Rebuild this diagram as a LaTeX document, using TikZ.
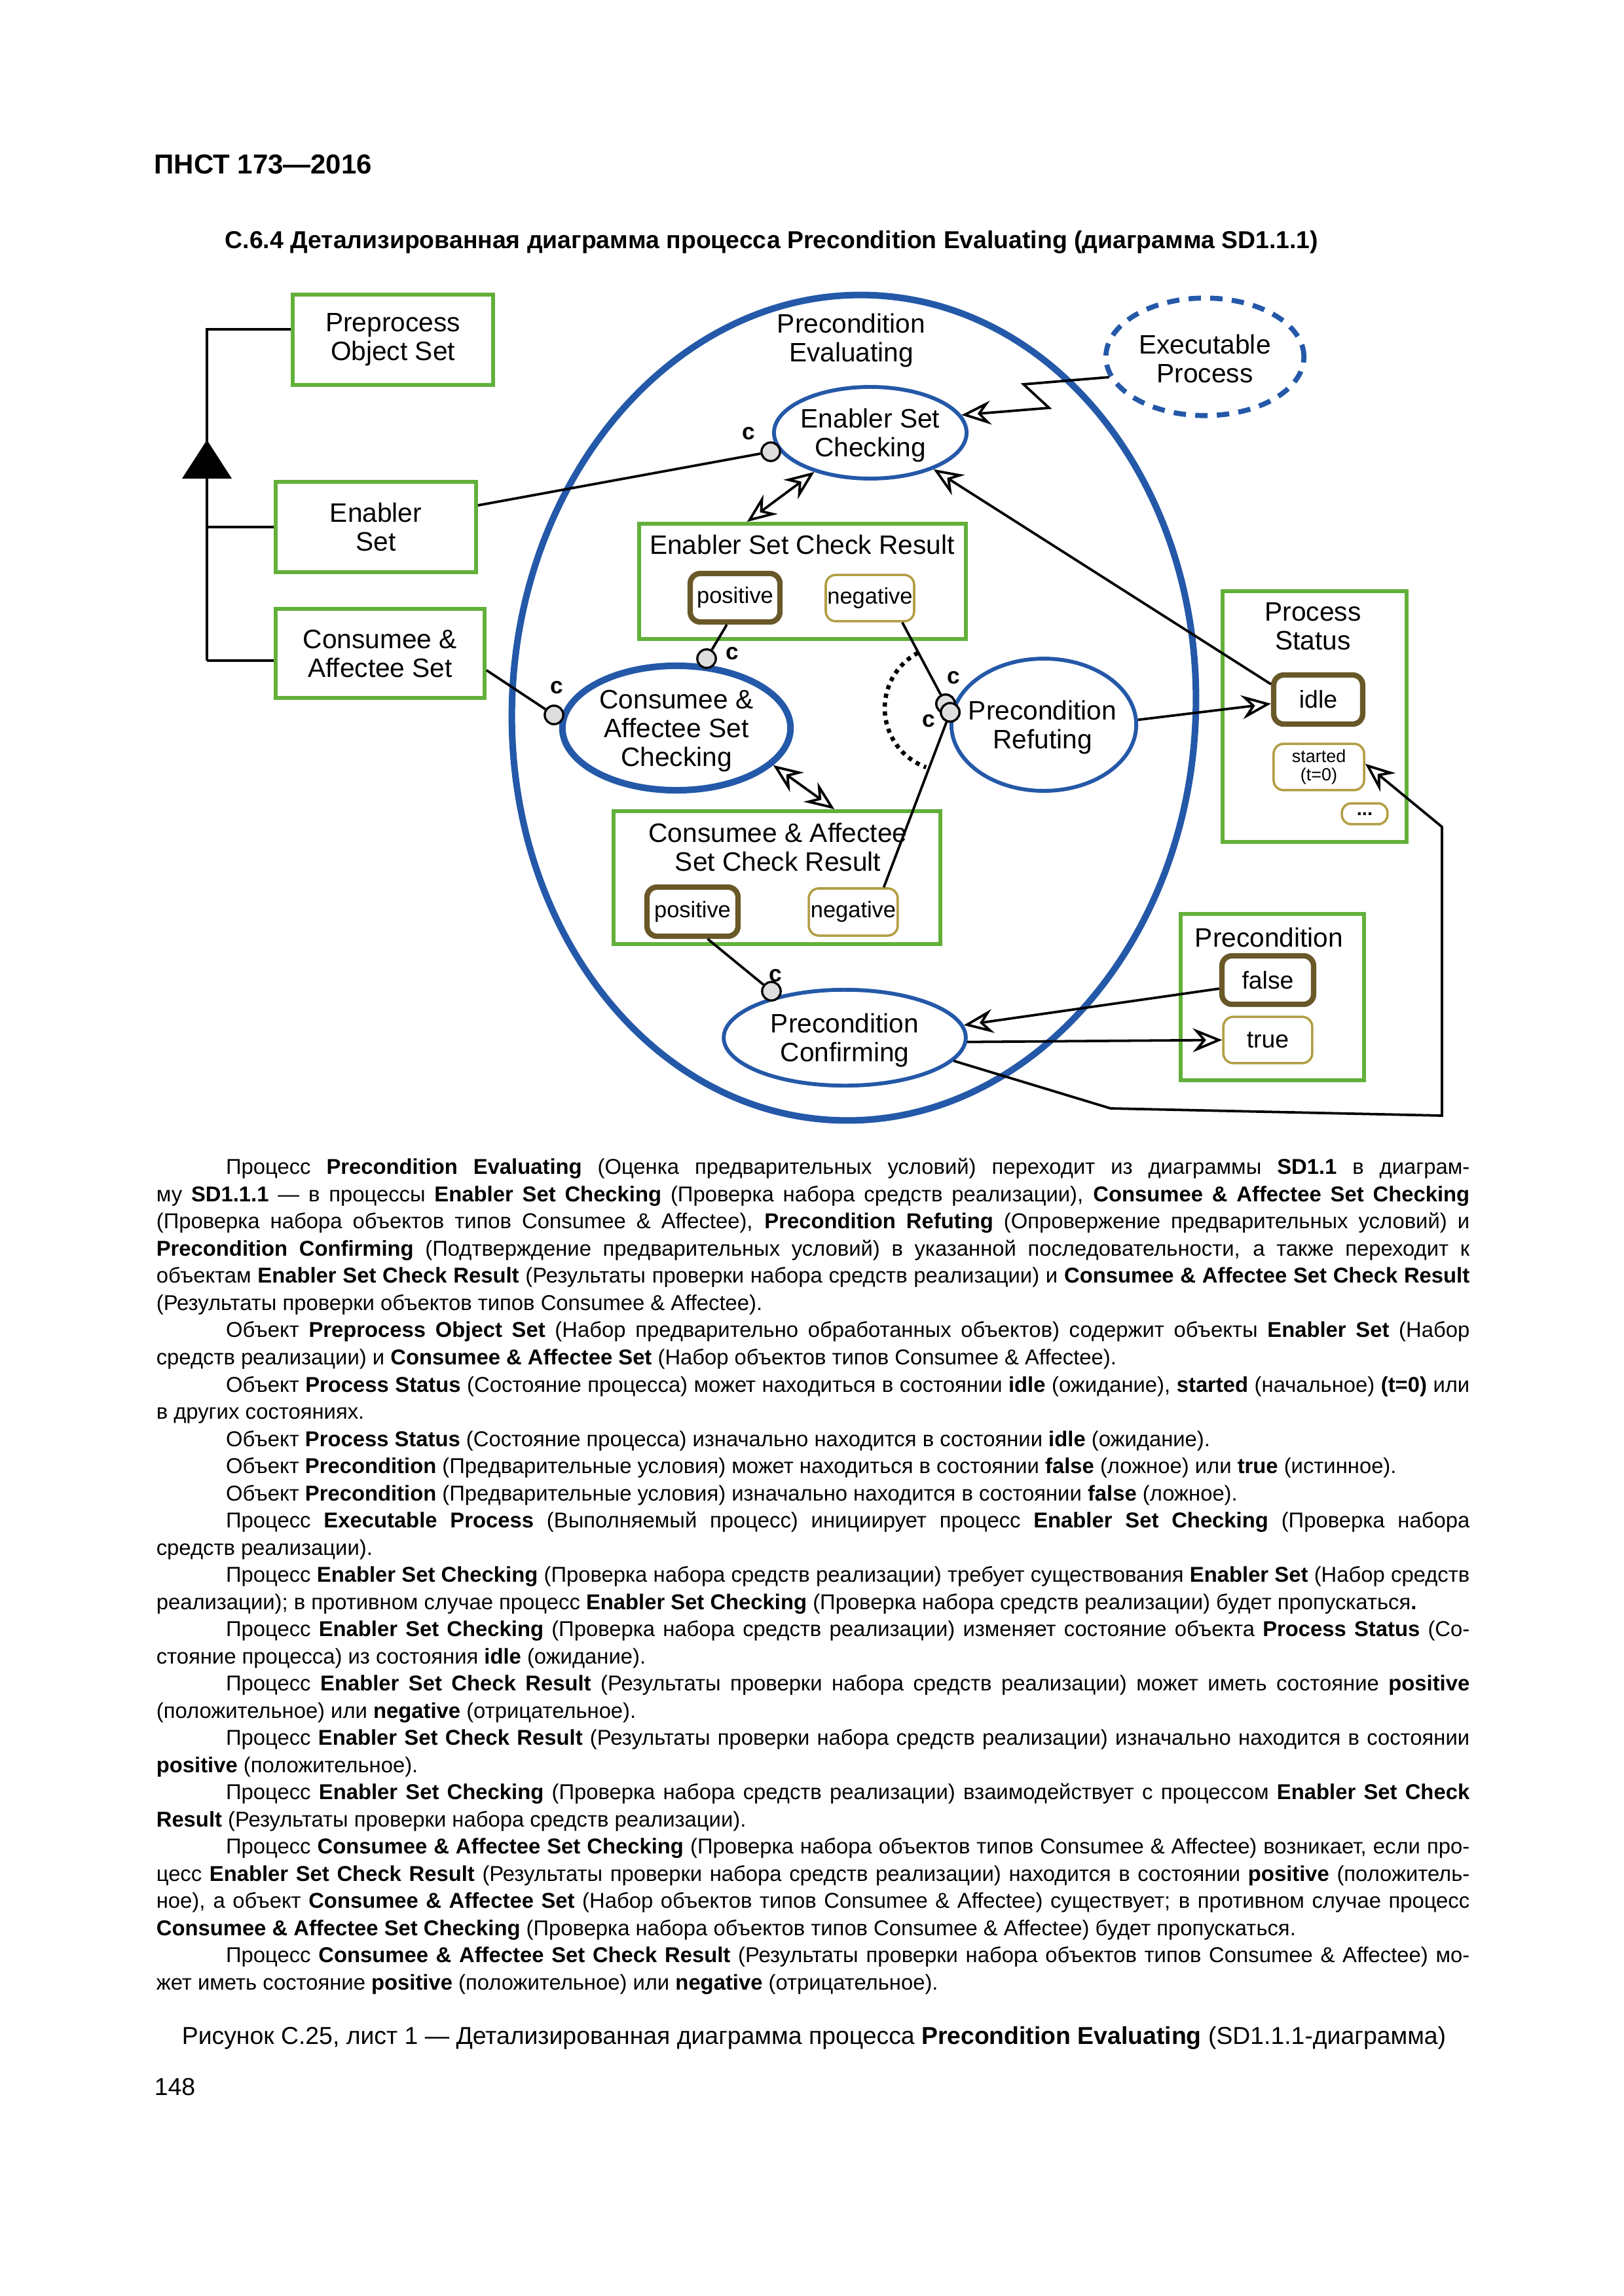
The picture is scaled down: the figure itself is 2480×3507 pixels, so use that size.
\documentclass[tikz,border=0pt]{standalone}
\usepackage{fontspec}
\setmainfont{Liberation Sans}
\usetikzlibrary{arrows.meta,shapes.geometric}
\definecolor{opmblue}{RGB}{36,88,168}
\definecolor{opmgreen}{RGB}{98,176,58}
\definecolor{stdark}{RGB}{105,88,40}
\definecolor{stlight}{RGB}{178,158,68}
\definecolor{cgray}{RGB}{222,222,222}
\newcommand\dfont{\fontsize{9.8}{10.6}\selectfont}
\newcommand\sfontA{\fontsize{8.3}{9}\selectfont}
\newcommand\txtj[1]{\hbox to\hsize{\strut #1}}
\newcommand\txtl[1]{\hbox{\strut #1}}
\newcommand\bx[1]{\textbf{#1}}
\newcommand\ind{\hspace*{9mm}}
\begin{document}
\begin{tikzpicture}[x=0.0846667mm,y=-0.0846667mm,
 obj/.style={draw=opmgreen,line width=0.5mm,fill=white,inner sep=0pt},
 proc/.style={draw=opmblue,line width=0.5mm,ellipse,inner sep=0pt},
 sti/.style={draw=stdark,line width=0.7mm,rounded corners=1.3mm,inner sep=0pt,font=\sfontA,fill=white},
 stn/.style={draw=stlight,line width=0.3mm,rounded corners=1.3mm,inner sep=0pt,font=\sfontA,fill=white},
 ttl/.style={font=\dfont,inner sep=0pt,align=center},
 lnk/.style={line width=0.32mm,draw=black},
 oarr/.style={-{Stealth[open,length=3.8mm,width=3.1mm,inset=1.3mm]}},
 darr/.style={{Stealth[open,length=3.8mm,width=3.1mm,inset=1.3mm]}-{Stealth[open,length=3.8mm,width=3.1mm,inset=1.3mm]}},
 cc/.style={circle,draw=black,line width=0.28mm,fill=cgray,minimum size=2.4mm,inner sep=0pt},
 clab/.style={font=\bfseries\fontsize{8.5}{8.5}\selectfont,inner sep=0pt},
]
\fill[white] (0,0) rectangle (2480,3507);
\path[use as bounding box] (0,0) rectangle (2480,3507);

% headers
\node[anchor=west,inner sep=0pt,font=\bfseries\fontsize{10.1}{12}\selectfont] (hdr) at (235,251) {ПНСТ 173—2016};
\node[anchor=west,inner sep=0pt,font=\bfseries\fontsize{9}{11}\selectfont] (head) at (343,370) {С.6.4 Детализированная диаграмма процесса Precondition Evaluating (диаграмма SD1.1.1)};

% big in-zoomed process
\node[draw=opmblue,line width=0.85mm,ellipse,minimum width=88.4mm,minimum height=106.8mm,inner sep=0pt,rotate=-3] (pe) at (1304,1081) {};
\node[ttl] (peT) at (1300,520) {Precondition\\Evaluating};

% left objects
\node[obj,minimum width=25.9mm,minimum height=11.7mm,align=center,font=\dfont] (pos) at (600,519) {Preprocess\\Object Set};
\node[obj,minimum width=25.9mm,minimum height=11.7mm,align=center,font=\dfont] (ens) at (574,805) {Enabler\\Set};
\node[obj,minimum width=27mm,minimum height=11.5mm,align=center,font=\dfont] (cas) at (580.5,998) {Consumee \&\\Affectee Set};
\coordinate (agbot) at (316,1009);
\coordinate (tri) at (316,672);
\draw[lnk] (pos.174) -| (agbot);
\draw[lnk] (ens.west) -- (ens.west -| agbot);
\draw[lnk] (cas.184) -- (cas.184 -| agbot);
\fill[black] (tri) -- ++(-38,59) -- ++(76,0) -- cycle;

% processes
\node[proc,minimum width=24.9mm,minimum height=11.85mm] (esc) at (1329,661) {};
\node[ttl] (escT) at (1329,665) {Enabler Set\\Checking};
\node[proc,line width=0.85mm,minimum width=29.5mm,minimum height=16.1mm] (casc) at (1033,1112) {};
\node[ttl] (cascT) at (1033,1117) {Consumee \&\\Affectee Set\\Checking};
\node[proc,minimum width=23.9mm,minimum height=17.1mm] (pr) at (1594,1107) {};
\node[ttl] (prT) at (1592,1111) {Precondition\\Refuting};
\node[proc,minimum width=31.3mm,minimum height=12.4mm] (pc) at (1290,1585) {};
\node[ttl] (pcT) at (1290,1589) {Precondition\\Confirming};
\node[proc,dash pattern=on 1.6mm off 1.2mm,line width=0.65mm,minimum width=25.6mm,minimum height=15.2mm] (ep) at (1840,545) {};
\node[ttl] (epT) at (1840,548) {Executable\\Process};

% inner objects
\node[obj,minimum width=42.25mm,minimum height=14.9mm] (escr) at (1225.5,888) {};
\node[ttl] (escrT) at (1225,832) {Enabler Set Check Result};
\node[sti,minimum width=11.6mm,minimum height=6.27mm] (escrP) at (1122.5,913) {positive};
\node[stn,minimum width=11.43mm,minimum height=6mm] (escrN) at (1328.5,913.5) {negative};
\node[obj,minimum width=42.25mm,minimum height=17.2mm] (cascr) at (1186.5,1340.5) {};
\node[ttl] (cascrT) at (1188,1294) {Consumee \& Affectee\\Set Check Result};
\node[sti,minimum width=11.77mm,minimum height=6.35mm] (cascrP) at (1057.5,1392.5) {positive};
\node[stn,minimum width=11.5mm,minimum height=6.1mm] (cascrN) at (1303,1393) {negative};

% right objects
\node[obj,minimum width=23.8mm,minimum height=32.4mm] (ps) at (2007.5,1094.5) {};
\node[ttl] (psT) at (2005,957) {Process\\Status};
\node[sti,minimum width=11.5mm,minimum height=6.35mm,font=\fontsize{9}{10}\selectfont] (idle) at (2013,1068.5) {idle};
\node[stn,minimum width=11.7mm,minimum height=6mm,align=center,font=\fontsize{6.5}{6.8}\selectfont] (started) at (2014,1171.5) {started\\(t=0)};
\node[stn,minimum width=5.9mm,minimum height=2.7mm,rounded corners=1.2mm,font=\bfseries\fontsize{7}{7}\selectfont] (dots) at (2084,1243) {...};
\node[obj,minimum width=23.7mm,minimum height=21.5mm] (prc) at (1943,1523) {};
\node[ttl] (prcT) at (1938,1432) {Precondition};
\node[sti,minimum width=11.85mm,minimum height=6.27mm,font=\fontsize{9}{10}\selectfont] (fls) at (1936,1497) {false};
\node[stn,minimum width=11.5mm,minimum height=6mm,font=\fontsize{9}{10}\selectfont] (tru) at (1936,1588.5) {true};

% condition circles
\node[cc] (c1) at (1177,690) {};
\node[cc] (c2) at (1079,1006) {};
\node[cc] (c3) at (846,1092) {};
\node[cc] (c4) at (1444,1075) {};
\node[cc] (c5) at (1451,1088) {};
\node[cc] (c6) at (1178,1514) {};
\node[clab] (c1l) at (1143,662) {c};
\node[clab] (c2l) at (1118,998) {c};
\node[clab] (c3l) at (850,1050) {c};
\node[clab] (c4l) at (1456,1035) {c};
\node[clab] (c5l) at (1418,1101) {c};
\node[clab] (c6l) at (1184,1490) {c};

% bend points
\coordinate (z1) at (1563,587);
\coordinate (z2) at (1602,623);
\coordinate (r1) at (1696,1693);
\coordinate (r2) at (2202,1704);
\coordinate (r3) at (2202,1263);
\coordinate (orA) at (1402,997);

% links
\draw[lnk] (ens.12.5) -- (c1);
\draw[lnk,oarr] (ep.192) -- (z1) -- (z2) -- (esc.11);
\draw[lnk,darr] (esc.215) -- (escr.133);
\draw[lnk,oarr] (idle.162) -- (esc.-30.5);
\draw[lnk] (escrP.-107) -- (c2);
\draw[lnk] (cas.-9) -- (c3);
\draw[lnk,darr] (casc.-21) -- (cascr.50.6);
\draw[lnk] (escrN.-37) -- (c4);
\draw[lnk] (cascrN.39) -- (c5);
\draw[line width=0.55mm,dash pattern=on 0.55mm off 0.6mm] (orA) arc[start angle=242,end angle=110,radius=96];
\draw[lnk,oarr] (pr.3) -- (idle.185);
\draw[lnk] (cascrP.-61) -- (c6);
\draw[lnk,oarr] (fls.190) -- (pc.6);
\draw[lnk,oarr] (pc.-2) -- (tru.west);
\draw[lnk,oarr] (pc.-12) -- (r1) -- (r2) -- (r3) -- (started.4);
\node[cc] at (c4) {};
\node[cc] at (c5) {};

% body text
\node[anchor=north west,inner sep=0pt,font=\fontsize{7.9}{10}\selectfont] (body) at (238,1764) {\vbox{\hsize=169.8mm
\txtj{\ind Процесс \bx{Precondition Evaluating} (Оценка предварительных условий) переходит из диаграммы \bx{SD1.1} в диаграм-}
\txtj{му \bx{SD1.1.1} — в процессы \bx{Enabler Set Checking} (Проверка набора средств реализации), \bx{Consumee \& Affectee Set Checking}}
\txtj{(Проверка набора объектов типов Consumee \& Affectee), \bx{Precondition Refuting} (Опровержение предварительных условий) и}
\txtj{\bx{Precondition Confirming} (Подтверждение предварительных условий) в указанной последовательности, а также переходит к}
\txtj{объектам \bx{Enabler Set Check Result} (Результаты проверки набора средств реализации) и \bx{Consumee \& Affectee Set Check Result}}
\txtl{(Результаты проверки объектов типов Consumee \& Affectee).}
\txtj{\ind Объект \bx{Preprocess Object Set} (Набор предварительно обработанных объектов) содержит объекты \bx{Enabler Set} (Набор}
\txtl{средств реализации) и \bx{Consumee \& Affectee Set} (Набор объектов типов Consumee \& Affectee).}
\txtj{\ind Объект \bx{Process Status} (Состояние процесса) может находиться в состоянии \bx{idle} (ожидание), \bx{started} (начальное) \bx{(t=0)} или}
\txtl{в других состояниях.}
\txtl{\ind Объект \bx{Process Status} (Состояние процесса) изначально находится в состоянии \bx{idle} (ожидание).}
\txtl{\ind Объект \bx{Precondition} (Предварительные условия) может находиться в состоянии \bx{false} (ложное) или \bx{true} (истинное).}
\txtl{\ind Объект \bx{Precondition} (Предварительные условия) изначально находится в состоянии \bx{false} (ложное).}
\txtj{\ind Процесс \bx{Executable Process} (Выполняемый процесс) инициирует процесс \bx{Enabler Set Checking} (Проверка набора}
\txtl{средств реализации).}
\txtj{\ind Процесс \bx{Enabler Set Checking} (Проверка набора средств реализации) требует существования \bx{Enabler Set} (Набор средств}
\txtl{реализации); в противном случае процесс \bx{Enabler Set Checking} (Проверка набора средств реализации) будет пропускаться\bx{.}}
\txtj{\ind Процесс \bx{Enabler Set Checking} (Проверка набора средств реализации) изменяет состояние объекта \bx{Process Status} (Со-}
\txtl{стояние процесса) из состояния \bx{idle} (ожидание).}
\txtj{\ind Процесс \bx{Enabler Set Check Result} (Результаты проверки набора средств реализации) может иметь состояние \bx{positive}}
\txtl{(положительное) или \bx{negative} (отрицательное).}
\txtj{\ind Процесс \bx{Enabler Set Check Result} (Результаты проверки набора средств реализации) изначально находится в состоянии}
\txtl{\bx{positive} (положительное).}
\txtj{\ind Процесс \bx{Enabler Set Checking} (Проверка набора средств реализации) взаимодействует с процессом \bx{Enabler Set Check}}
\txtl{\bx{Result} (Результаты проверки набора средств реализации).}
\txtj{\ind Процесс \bx{Consumee \& Affectee Set Checking} (Проверка набора объектов типов Consumee \& Affectee) возникает, если про-}
\txtj{цесс \bx{Enabler Set Check Result} (Результаты проверки набора средств реализации) находится в состоянии \bx{positive} (положитель-}
\txtj{ное), а объект \bx{Consumee \& Affectee Set} (Набор объектов типов Consumee \& Affectee) существует; в противном случае процесс}
\txtl{\bx{Consumee \& Affectee Set Checking} (Проверка набора объектов типов Consumee \& Affectee) будет пропускаться.}
\txtj{\ind Процесс \bx{Consumee \& Affectee Set Check Result} (Результаты проверки набора объектов типов Consumee \& Affectee) мо-}
\txtl{жет иметь состояние \bx{positive} (положительное) или \bx{negative} (отрицательное).}
}};

\node[inner sep=0pt,font=\fontsize{9}{11}\selectfont] (cap) at (1243,3113) {Рисунок С.25, лист 1 — Детализированная диаграмма процесса \textbf{Precondition Evaluating} (SD1.1.1-диаграмма)};
\node[anchor=west,inner sep=0pt,font=\fontsize{9}{11}\selectfont] (pnum) at (235,3188) {148};
\end{tikzpicture}
\end{document}
